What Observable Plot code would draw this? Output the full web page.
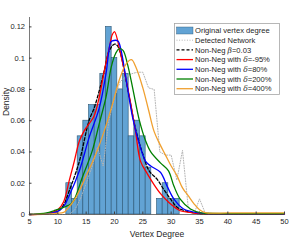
<!DOCTYPE html>
<html><head><meta charset="utf-8">
<script src="https://cdn.jsdelivr.net/npm/d3@7"></script>
<script src="https://cdn.jsdelivr.net/npm/@observablehq/plot@0.6"></script>
<style>
body{margin:0;background:#fff;}
#wrap{position:relative;width:299px;height:240px;font-family:"Liberation Sans",Arial,sans-serif;}
#legend{position:absolute;left:174px;top:22.5px;}
</style></head><body><div id="wrap"></div>
<script>
// Histogram of original vertex degree (bar centres and densities)
const degrees = [12,13,14,15,16,17,18,19,20,21,22,23,24,25,26,27,28,29,30,31];
const degreeDensity = [0.02,0.01,0.05,0.06,0.07,0.07,0.09,0.12,0.10,0.08,0.09,0.05,0.06,0.05,0.03,0,0.01,0.02,0.01,0.01];

// Detected network degree distribution (dotted)
const detX = [5,12,13,14,15,16,17,18,19,20,21,22,23,24,25,26,27,28,29,30,31,32,33,34,35,36,40,45,50];
const detY = [0,0,0.003,0.01,0.02,0.03,0.043,0.031,0.06,0.075,0.085,0.088,0.09,0.091,0.091,0.081,0.08,0.04,0.038,0.038,0.022,0.041,0.005,0,0.01,0.001,0,0,0];

// Non-Neg beta=0.03
const betaX = [5,8,10,11,12,13.8,15.5,16.4,17.3,18.2,19.1,20,20.5,21.1,22.3,23.8,25,26.1,27.5,28.7,29.9,31.1,32.8,35,36,40,45,50];
const betaY = [0,0.0005,0.002,0.006,0.015,0.034,0.06,0.068,0.079,0.092,0.105,0.109,0.108,0.1025,0.081,0.0535,0.0386,0.028,0.0226,0.016,0.0098,0.0045,0.002,0.0005,0.0003,0.0002,0.0002,0.0002];

// Non-Neg with delta=-95%
const dm95X = [5,8,10,11,12,12.9,13.8,14.65,15.5,16.4,17.3,18.2,19.1,19.6,20,21,21.9,22.8,23.7,24.6,25.8,27,28.2,29.6,31.6,33.4,35,36,40,45,50];
const dm95Y = [0,0.0005,0.003,0.008,0.0215,0.034,0.047,0.0535,0.058,0.063,0.075,0.092,0.107,0.115,0.117,0.104,0.089,0.072,0.0535,0.034,0.026,0.019,0.013,0.0077,0.0024,0.0013,0.0005,0.0003,0.0002,0.0002,0.0002];

// Non-Neg with delta=80%
const d80X = [5,8,10,11,12,13.8,15.5,17.3,18.5,19.3,19.6,20.6,21.1,22,23.2,24.4,25.5,26.4,28.1,29.3,30.5,32.2,35,36,40,45,50];
const d80Y = [0,0.0005,0.002,0.005,0.012,0.028,0.049,0.068,0.09,0.11,0.111,0.111,0.106,0.0876,0.062,0.045,0.034,0.031,0.027,0.018,0.0098,0.0035,0.001,0.0006,0.0004,0.0004,0.0004];

// Non-Neg with delta=200%
const d200X = [5,8,9.3,11.65,12.6,14.35,16.1,17.3,18.5,19.4,20.2,20.8,21.5,22.3,23.2,24.4,25.5,26.4,28.1,29.5,30.5,31.6,33.4,35.3,36,40,45,50];
const d200Y = [0,0.001,0.0024,0.0055,0.0077,0.024,0.041,0.058,0.075,0.094,0.103,0.106,0.105,0.096,0.081,0.06,0.047,0.04,0.033,0.028,0.018,0.0098,0.0035,0.001,0.0008,0.0006,0.0006,0.0006];

// Non-Neg with delta=400%
const d400X = [5,8,11,11.4,13.2,14.9,16.7,18.2,19.6,20.8,22,23,23.8,25,26,27,28,29,30,31,32,33,34,35,36,40,45,50];
const d400Y = [0,0.0003,0.0013,0.0024,0.011,0.024,0.0386,0.0535,0.07,0.0855,0.096,0.099,0.094,0.081,0.067,0.053,0.045,0.038,0.031,0.025,0.017,0.012,0.007,0.003,0.0012,0.001,0.001,0.001];

const xTicks = [5,10,15,20,25,30,35,40,45,50];
const yTicks = [0,0.02,0.04,0.06,0.08,0.1,0.12];

const legendLabels = ["Original vertex degree","Detected Network","Non-Neg β=0.03","Non-Neg with δ=-95%","Non-Neg with δ=80%","Non-Neg with δ=200%","Non-Neg with δ=400%"];

const bars = degrees.map((d,i)=>({d, v: degreeDensity[i]}));
const pts = (xs, ys) => xs.map((x,i)=>({x, y: ys[i]}));

const LW = 1.3;
const series = [
  {data: pts(detX, detY), stroke:"#b4b4b4", width:1, dash:"1,1.6", curve:"linear"},
  {data: pts(betaX, betaY), stroke:"#000000", width:LW, dash:"3,2", curve:"catmull-rom"},
  {data: pts(dm95X, dm95Y), stroke:"#ff0000", width:LW, dash:null, curve:"catmull-rom"},
  {data: pts(d80X, d80Y), stroke:"#0000ff", width:LW, dash:null, curve:"catmull-rom"},
  {data: pts(d200X, d200Y), stroke:"#008000", width:LW, dash:null, curve:"catmull-rom"},
  {data: pts(d400X, d400Y), stroke:"#f0a030", width:LW, dash:null, curve:"catmull-rom"}
];

const fmt = d => String(+d.toFixed(2));
const font = "'Liberation Sans', Arial, sans-serif";

const chart = Plot.plot({
  width: 299, height: 240,
  marginLeft: 29, marginRight: 15, marginTop: 17, marginBottom: 26,
  x: {domain: [5, 50], label: null},
  y: {domain: [0, 0.126], label: null},
  style: {fontFamily: font, fontSize: "7.5px", color: "#262626", background: "#fff"},
  marks: [
    Plot.rectY(bars, {x1: d => d.d - 0.5, x2: d => d.d + 0.5, y: "v", fill: "#62a3d4", stroke: "#2b5573", strokeWidth: 0.6}),
    ...series.map(s => Plot.line(s.data, {x: "x", y: "y", stroke: s.stroke, strokeWidth: s.width, strokeDasharray: s.dash, curve: s.curve})),
    Plot.ruleY([0], {stroke: "#404040", strokeWidth: 0.7}),
    Plot.ruleX([5], {stroke: "#404040", strokeWidth: 0.7}),
    Plot.axisX({ticks: xTicks, tickSize: -2.5, tickPadding: 7, tickFormat: d => String(d), label: null, stroke: "#404040"}),
    Plot.axisY({ticks: yTicks, tickSize: -2.5, tickPadding: 7, tickFormat: fmt, label: null, stroke: "#404040"}),
    Plot.text(["Vertex Degree"], {frameAnchor: "bottom", dy: 22, fontSize: 8.5, fill: "#262626"}),
    Plot.text(["Density"], {frameAnchor: "left", dx: -23, rotate: -90, fontSize: 8.5, fill: "#262626"})
  ]
});

const wrap = document.getElementById("wrap");
wrap.appendChild(chart);

// Legend overlay
const lw = 105, lh = 71, rowH = 9.7, row0 = 7.5;
const leg = d3.select(wrap).append("svg").attr("id","legend").attr("width", lw+1).attr("height", lh+1);
leg.append("rect").attr("x",0.5).attr("y",0.5).attr("width",lw).attr("height",lh).attr("fill","#fff").attr("stroke","#a6a6a6").attr("stroke-width",0.8);
const legStyles = [
  {type:"patch"},
  {stroke:"#b4b4b4", dash:"1,1.6", w:1},
  {stroke:"#000", dash:"3,2"},
  {stroke:"#ff0000"},
  {stroke:"#0000ff"},
  {stroke:"#008000"},
  {stroke:"#f0a030"}
];
legendLabels.forEach((lab, i) => {
  const y = row0 + i*rowH;
  const st = legStyles[i];
  if (st.type === "patch") {
    leg.append("rect").attr("x",2.5).attr("y",y-3.5).attr("width",16.5).attr("height",7).attr("fill","#62a3d4").attr("stroke","#2b5573").attr("stroke-width",0.4);
  } else {
    leg.append("line").attr("x1",2.5).attr("x2",19).attr("y1",y).attr("y2",y).attr("stroke",st.stroke).attr("stroke-width",st.w||LW).attr("stroke-dasharray",st.dash||null);
  }
  const t = leg.append("text").attr("x",21).attr("y",y+2.6).attr("font-family",font).attr("font-size","7.6px").attr("fill","#262626");
  const m = lab.match(/^(.*?)([βδ])(.*)$/);
  if (m) {
    t.append("tspan").text(m[1]);
    t.append("tspan").attr("font-style","italic").attr("font-family","'DejaVu Serif', serif").text(m[2]);
    t.append("tspan").text(m[3]);
  } else t.text(lab);
});
</script></body></html>
